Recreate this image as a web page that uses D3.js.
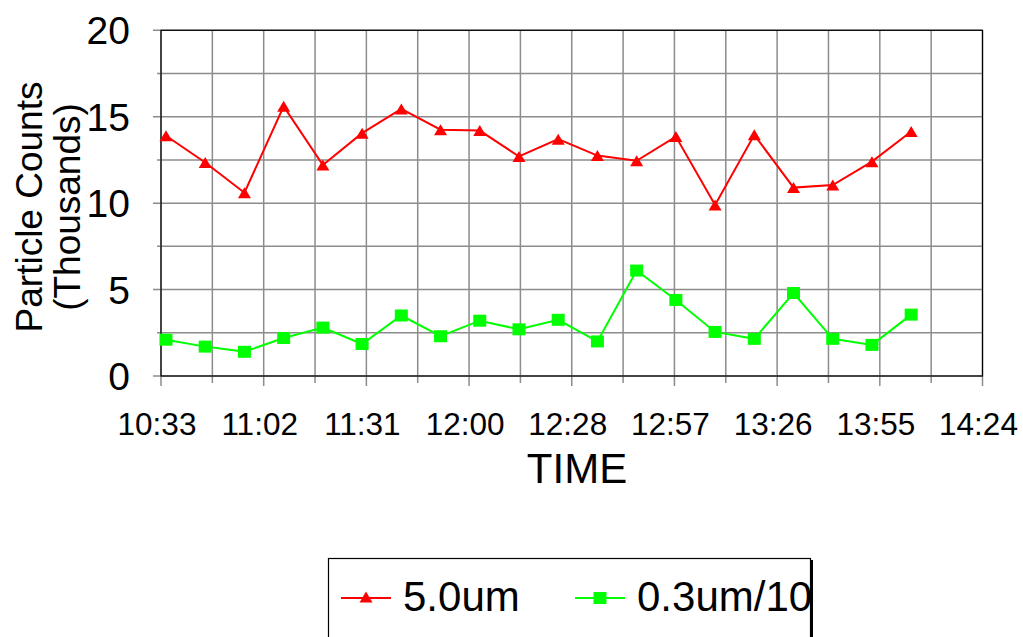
<!DOCTYPE html>
<html>
<head>
<meta charset="utf-8">
<script src="https://cdn.jsdelivr.net/npm/d3@7"></script>
<style>
  html, body { margin: 0; padding: 0; background: #fff; }
  svg { display: block; font-family: "Liberation Sans", Arial, sans-serif; }
</style>
</head>
<body>
<svg id="chart" width="1023" height="637"></svg>
<script>
// Sample times (hh:mm)
const sampleTimes = ["10:35","10:46","10:57","11:08","11:19","11:30","11:41","11:52","12:03","12:14",
                     "12:25","12:36","12:47","12:58","13:09","13:20","13:31","13:42","13:53","14:04"];
// Particle counts, thousands
const counts50 = [13.9, 12.35, 10.6, 15.6, 12.2, 14.05, 15.45, 14.25, 14.2, 12.7,
                  13.7, 12.75, 12.45, 13.85, 9.9, 13.95, 10.9, 11.05, 12.4, 14.15];
const counts03 = [2.1, 1.7, 1.4, 2.2, 2.8, 1.85, 3.5, 2.3, 3.2, 2.7,
                  3.25, 2.0, 6.1, 4.4, 2.55, 2.15, 4.8, 2.15, 1.8, 3.55];
const seriesNames = ["5.0um", "0.3um/10"];

// Time axis, in fractions of a day
const xTickValues = [0.44, 0.46, 0.48, 0.50, 0.52, 0.54, 0.56, 0.58, 0.60];
const xTickLabels = ["10:33","11:02","11:31","12:00","12:28","12:57","13:26","13:55","14:24"];
const xMinorStep = 0.01;
const yTickValues = [0, 5, 10, 15, 20];
const yMinorStep = 2.5;

const toDay = s => { const [h, m] = s.split(":").map(Number); return (h * 60 + m) / 1440; };

const svg = d3.select("#chart");
const plotLeft = 161, plotRight = 982.5, plotTop = 30.3, plotBottom = 376;

const x = d3.scaleLinear().domain([0.44, 0.60]).range([plotLeft, plotRight]);
const y = d3.scaleLinear().domain([0, 20]).range([plotBottom, plotTop]);

const grid = "#8c8c8c";

// minor + major gridlines
const xGrid = d3.range(0.44, 0.6001, xMinorStep);
const yGrid = d3.range(0, 20.001, yMinorStep);

svg.append("g").selectAll("line").data(xGrid).join("line")
  .attr("x1", d => x(d)).attr("x2", d => x(d))
  .attr("y1", plotTop).attr("y2", (d, i) => plotBottom + (i % 2 === 0 ? 10 : 7))
  .attr("stroke", grid).attr("stroke-width", 1.5);

svg.append("g").selectAll("line").data(yGrid).join("line")
  .attr("y1", d => y(d)).attr("y2", d => y(d))
  .attr("x1", (d, i) => plotLeft - (i % 2 === 0 ? 8 : 4)).attr("x2", plotRight)
  .attr("stroke", grid).attr("stroke-width", 1.5);

// plot frame
svg.append("rect")
  .attr("x", plotLeft).attr("y", plotTop)
  .attr("width", plotRight - plotLeft).attr("height", plotBottom - plotTop)
  .attr("fill", "none").attr("stroke", "#000").attr("stroke-width", 1.2);

// y tick labels
svg.append("g").selectAll("text").data(yTickValues).join("text")
  .attr("x", 130).attr("y", d => y(d)).attr("dy", "0.36em")
  .attr("text-anchor", "end").attr("font-size", 39)
  .text(d => d);

// x tick labels
svg.append("g").selectAll("text").data(xTickValues).join("text")
  .attr("x", d => x(d) - 4).attr("y", 435)
  .attr("text-anchor", "middle").attr("font-size", 31.5)
  .text((d, i) => xTickLabels[i]);

// axis titles
svg.append("text").attr("x", 577).attr("y", 483)
  .attr("text-anchor", "middle").attr("font-size", 42).text("TIME");

const yTitle = svg.append("text")
  .attr("transform", "translate(0,207) rotate(-90)")
  .attr("text-anchor", "middle").attr("font-size", 37);
yTitle.append("tspan").attr("x", 0).attr("y", 42).text("Particle Counts");
yTitle.append("tspan").attr("x", 0).attr("y", 80).text("(Thousands)");

// series
const tri = (cx, cy, w, h) => `M${cx},${cy - h / 2}L${cx + w / 2},${cy + h / 2}L${cx - w / 2},${cy + h / 2}Z`;

const series = [
  { name: seriesNames[0], values: counts50, color: "#ff0000", marker: "triangle" },
  { name: seriesNames[1], values: counts03, color: "#00ff00", marker: "square" }
];

const line = d3.line().x(d => x(d[0])).y(d => y(d[1]));

series.forEach(s => {
  const pts = sampleTimes.map((t, i) => [toDay(t), s.values[i]]);
  svg.append("path").datum(pts)
    .attr("d", line).attr("fill", "none")
    .attr("stroke", s.color).attr("stroke-width", 2);
  const g = svg.append("g");
  if (s.marker === "triangle") {
    g.selectAll("path").data(pts).join("path")
      .attr("d", d => tri(x(d[0]), y(d[1]), 13, 11))
      .attr("fill", s.color);
  } else {
    g.selectAll("rect").data(pts).join("rect")
      .attr("x", d => x(d[0]) - 6.5).attr("y", d => y(d[1]) - 6)
      .attr("width", 13).attr("height", 12)
      .attr("fill", s.color);
  }
});

// legend
const legend = svg.append("g");
legend.append("rect")
  .attr("x", 328.5).attr("y", 558.5).attr("width", 482).attr("height", 90)
  .attr("fill", "#fff").attr("stroke", "#000").attr("stroke-width", 1.2);

const items = [
  { s: series[0], lx: 341, tx: 403 },
  { s: series[1], lx: 575, tx: 637 }
];
items.forEach(it => {
  legend.append("line")
    .attr("x1", it.lx).attr("x2", it.lx + 50).attr("y1", 598).attr("y2", 598)
    .attr("stroke", it.s.color).attr("stroke-width", 2);
  if (it.s.marker === "triangle") {
    legend.append("path").attr("d", tri(it.lx + 25, 597, 13, 11)).attr("fill", it.s.color);
  } else {
    legend.append("rect").attr("x", it.lx + 25 - 6.5).attr("y", 592)
      .attr("width", 13).attr("height", 12).attr("fill", it.s.color);
  }
  legend.append("text").attr("x", it.tx).attr("y", 611)
    .attr("font-size", 42).text(it.s.name);
});
// heavy right edge of the legend box
legend.append("line")
  .attr("x1", 811.5).attr("x2", 811.5).attr("y1", 560).attr("y2", 637)
  .attr("stroke", "#000").attr("stroke-width", 3);
</script>
</body>
</html>
